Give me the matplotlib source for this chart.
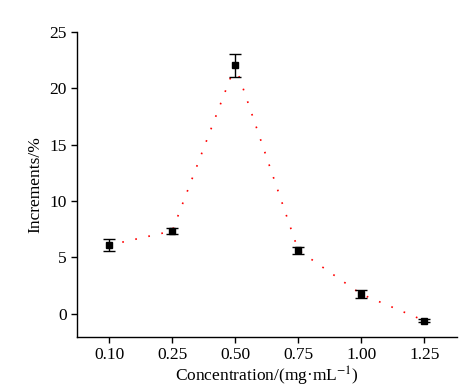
import matplotlib
matplotlib.use('Agg')
import matplotlib.pyplot as plt
import numpy as np

# data
conc_labels = ['0.10', '0.25', '0.50', '0.75', '1.00', '1.25']
increments = [6.1, 7.35, 22.05, 5.65, 1.75, -0.6]
errors = [0.55, 0.3, 1.0, 0.3, 0.35, 0.1]

plt.rcParams['font.family'] = ['Liberation Serif', 'DejaVu Serif']
plt.rcParams['mathtext.fontset'] = 'stix'

fig = plt.figure(figsize=(4.76, 3.90), dpi=100)
ax = fig.add_axes([0.162, 0.136, 0.798, 0.782])

x = np.arange(len(conc_labels))
ax.plot(x, increments, linestyle=(0, (1, 7)), color='red', linewidth=1.2, zorder=1)
ax.errorbar(x, increments, yerr=errors, fmt='s', color='black', markersize=5,
            capsize=4, elinewidth=1, capthick=1, zorder=2)

ax.set_xlim(-0.51, 5.52)
ax.set_ylim(-2.05, 25)
ax.set_xticks(x)
ax.set_xticklabels(conc_labels)
ax.set_yticks([0, 5, 10, 15, 20, 25])

for s in ['top', 'right']:
    ax.spines[s].set_visible(False)
ax.spines['left'].set_linewidth(1)
ax.spines['bottom'].set_linewidth(1)
ax.tick_params(labelsize=12.5, length=4, width=1)

ax.set_xlabel('Concentration/(mg·mL$^{-1}$)', fontsize=12.5, labelpad=1)
ax.set_ylabel('Increments/%', fontsize=12.5, labelpad=4)

fig.savefig('out.png', dpi=100)
